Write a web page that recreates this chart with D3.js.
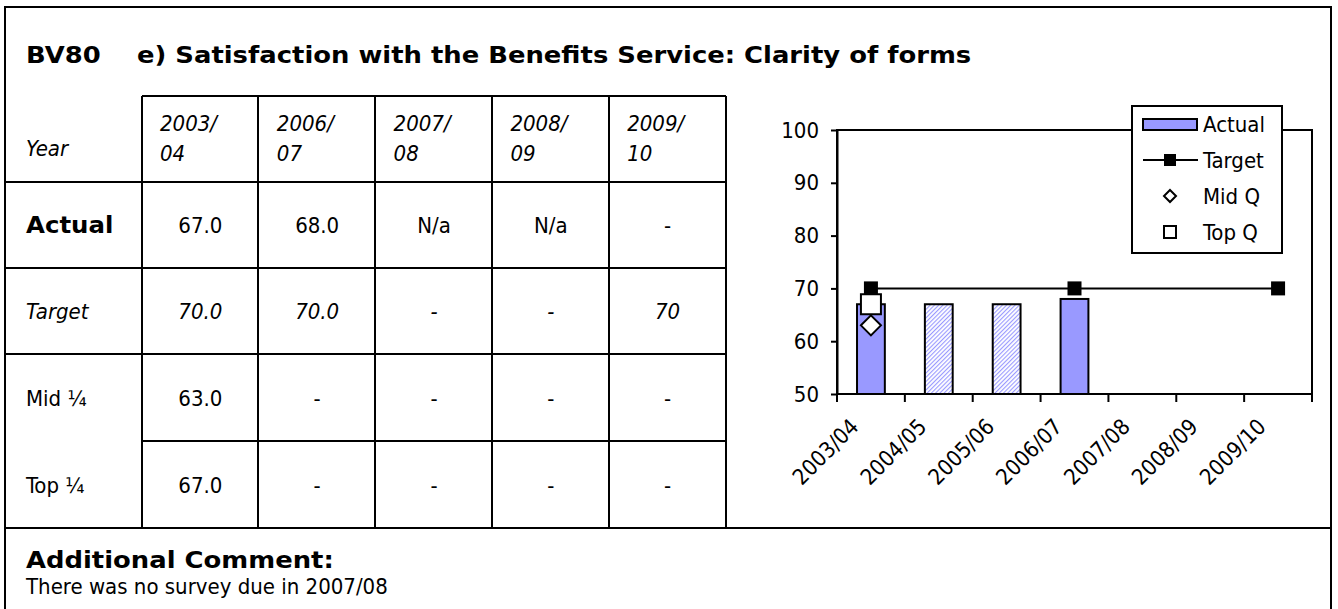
<!DOCTYPE html>
<html>
<head>
<meta charset="utf-8">
<script src="https://cdn.jsdelivr.net/npm/d3@7"></script>
<style>
  html, body { margin: 0; padding: 0; background: #fff; }
  svg { display: block; }
  .txt { font-family: "DejaVu Sans Condensed", "DejaVu Sans", Verdana, sans-serif; font-stretch: condensed; }
  .head { font-family: "DejaVu Sans", Verdana, sans-serif; font-weight: bold; font-stretch: normal; }
</style>
</head>
<body>
<svg id="sheet" width="1338" height="609"></svg>
<script>
// ---- Chart data ----
const categories = ["2003/04", "2004/05", "2005/06", "2006/07", "2007/08", "2008/09", "2009/10"];
const actual     = [67, null, null, 68, null, null, null];   // surveyed years (solid bars)
const carried    = [null, 67, 67, null, null, null, null];   // non-survey years (hatched bars)
const target     = [70, null, null, 70, null, null, 70];
const midQ       = [63, null, null, null, null, null, null];
const topQ       = [67, null, null, null, null, null, null];
const yTicks     = [50, 60, 70, 80, 90, 100];
const legendLabels = ["Actual", "Target", "Mid Q", "Top Q"];

// ---- Table data ----
const yearLine1 = ["2003/", "2006/", "2007/", "2008/", "2009/"];
const yearLine2 = ["04", "07", "08", "09", "10"];
const rowActual = ["67.0", "68.0", "N/a", "N/a", "-"];
const rowTarget = ["70.0", "70.0", "-", "-", "70"];
const rowMid    = ["63.0", "-", "-", "-", "-"];
const rowTop    = ["67.0", "-", "-", "-", "-"];
const rowLabels = ["Actual", "Target", "Mid \u00BC", "Top \u00BC"];

const svg = d3.select("#sheet");
const INK = "#000";
const BAR = "#9999FF";
const FS = 22;      // body text size
const HS = 23.5;    // bold heading size
const HW = 1.1;     // horizontal widening of bold headings

// widen bold text horizontally (keeps the glyph height)
function widen(sel, k = HW) {
  sel.each(function () {
    const w = this.getComputedTextLength();
    d3.select(this).attr("textLength", w * k).attr("lengthAdjust", "spacingAndGlyphs");
  });
}

// ---- Outer frame ----
const frame = { left: 5, right: 1331, top: 7 };
const lines = svg.append("g").attr("stroke", INK).attr("stroke-width", 2).attr("fill", "none");
lines.append("path").attr("d", `M${frame.left},609 V${frame.top} H${frame.right} V609`);

// ---- Heading ----
const labelX = 26;
const heading = svg.append("g").attr("class", "head").attr("font-size", HS).attr("fill", INK);
heading.append("text").attr("x", labelX).attr("y", 63).text("BV80");
heading.append("text").attr("x", 137).attr("y", 63)
  .text("e) Satisfaction with the Benefits Service: Clarity of forms");
widen(heading.selectAll("text"));

// ---- Table ----
const colEdges = [142, 258, 375, 492, 609, 726];
const rowEdges = [96, 182, 268, 354, 441, 528];
const colX = d3.scaleBand().domain(d3.range(5)).range([colEdges[0], colEdges[5]]);

// horizontal rules
lines.append("line").attr("x1", colEdges[0]).attr("x2", colEdges[5]).attr("y1", rowEdges[0]).attr("y2", rowEdges[0]);
[1, 2, 3].forEach(i => lines.append("line").attr("x1", frame.left).attr("x2", colEdges[5]).attr("y1", rowEdges[i]).attr("y2", rowEdges[i]));
lines.append("line").attr("x1", colEdges[0]).attr("x2", colEdges[5]).attr("y1", rowEdges[4]).attr("y2", rowEdges[4]);
lines.append("line").attr("x1", frame.left).attr("x2", frame.right).attr("y1", rowEdges[5]).attr("y2", rowEdges[5]);
// vertical rules
colEdges.forEach(x => lines.append("line").attr("x1", x).attr("x2", x).attr("y1", rowEdges[0]).attr("y2", rowEdges[5]));

const table = svg.append("g").attr("class", "txt").attr("font-size", FS).attr("fill", INK);

// header row
table.append("text").attr("x", labelX).attr("y", 156).attr("font-style", "italic").text("Year");
table.selectAll(".yr1").data(yearLine1).join("text")
  .attr("x", (d, i) => colX(i) + 18).attr("y", 131).attr("font-style", "italic").text(d => d);
table.selectAll(".yr2").data(yearLine2).join("text")
  .attr("x", (d, i) => colX(i) + 18).attr("y", 161).attr("font-style", "italic").text(d => d);

const bodyRows = [rowActual, rowTarget, rowMid, rowTop];
bodyRows.forEach((vals, r) => {
  const cy = (rowEdges[r + 1] + rowEdges[r + 2]) / 2 + 8;
  const lab = table.append("text").attr("x", labelX).attr("y", cy).text(rowLabels[r]);
  if (r === 0) { lab.attr("class", "head").attr("font-size", HS); widen(lab, 1.04); }
  if (r === 1) lab.attr("font-style", "italic");
  table.selectAll(null).data(vals).join("text")
    .attr("x", (d, i) => colX(i) + colX.bandwidth() / 2)
    .attr("y", cy)
    .attr("text-anchor", "middle")
    .attr("font-style", r === 1 ? "italic" : null)
    .text(d => d);
});

// comment block
const commentHead = table.append("text").attr("x", labelX).attr("y", 568)
  .attr("class", "head").attr("font-size", HS).text("Additional Comment:");
widen(commentHead);
table.append("text").attr("x", labelX).attr("y", 594).text("There was no survey due in 2007/08");

// ---- Chart ----
const plot = { left: 837, right: 1312, top: 130, bottom: 394 };
const x = d3.scaleBand().domain(categories).range([plot.left, plot.right]).padding(0);
const y = d3.scaleLinear().domain([50, 100]).range([plot.bottom, plot.top]);
const barW = x.bandwidth() * 0.41;
const cx = c => x(c) + x.bandwidth() / 2;

const defs = svg.append("defs");
const pat = defs.append("pattern").attr("id", "hatch").attr("patternUnits", "userSpaceOnUse")
  .attr("width", 3).attr("height", 3).attr("patternTransform", "rotate(45)");
pat.append("rect").attr("width", 3).attr("height", 3).attr("fill", "#fff");
pat.append("rect").attr("width", 1.1).attr("height", 3).attr("fill", BAR);

const chart = svg.append("g").attr("class", "txt");

// plot frame
chart.append("rect").attr("x", plot.left).attr("y", plot.top)
  .attr("width", plot.right - plot.left).attr("height", plot.bottom - plot.top)
  .attr("fill", "none").attr("stroke", INK).attr("stroke-width", 2);

// bars
const barData = (vals, fill) => categories.map((c, i) => ({ c, v: vals[i], fill })).filter(d => d.v != null);
chart.selectAll(".bar").data([...barData(actual, BAR), ...barData(carried, "url(#hatch)")]).join("rect")
  .attr("x", d => cx(d.c) - barW / 2)
  .attr("y", d => y(d.v))
  .attr("width", barW)
  .attr("height", d => y(50) - y(d.v))
  .attr("fill", d => d.fill)
  .attr("stroke", INK).attr("stroke-width", 2);

// y axis
const yAxis = chart.append("g").attr("transform", `translate(${plot.left},0)`)
  .call(d3.axisLeft(y).tickValues(yTicks).tickSize(6).tickPadding(12).tickSizeOuter(0));
yAxis.attr("font-family", null).attr("font-size", null);
yAxis.select(".domain").attr("stroke-width", 2);
yAxis.selectAll(".tick line").attr("stroke-width", 2);
yAxis.selectAll("text").attr("font-size", FS).attr("fill", INK);

// x axis: ticks between categories, rotated labels
const xAxis = chart.append("g").attr("transform", `translate(0,${plot.bottom})`);
xAxis.append("line").attr("x1", plot.left).attr("x2", plot.right).attr("stroke", INK).attr("stroke-width", 2);
const edges = categories.map(c => x(c)).concat([plot.right]);
xAxis.selectAll(".xt").data(edges).join("line")
  .attr("x1", d => d).attr("x2", d => d).attr("y1", 0).attr("y2", 8)
  .attr("stroke", INK).attr("stroke-width", 2);
xAxis.selectAll(".xl").data(categories).join("text")
  .attr("transform", d => `translate(${cx(d) - 11},34) rotate(-45)`)
  .attr("text-anchor", "end").attr("font-size", FS).attr("fill", INK)
  .text(d => d);

// target line + markers
const tPts = categories.map((c, i) => ({ c, v: target[i] })).filter(d => d.v != null);
chart.append("path").datum(tPts)
  .attr("d", d3.line().x(d => cx(d.c)).y(d => y(d.v)))
  .attr("fill", "none").attr("stroke", INK).attr("stroke-width", 2);
chart.selectAll(".tm").data(tPts).join("rect")
  .attr("x", d => cx(d.c) - 7).attr("y", d => y(d.v) - 7)
  .attr("width", 14).attr("height", 14).attr("fill", INK);

// mid quartile diamonds
const mPts = categories.map((c, i) => ({ c, v: midQ[i] })).filter(d => d.v != null);
chart.selectAll(".mq").data(mPts).join("path")
  .attr("d", d => { const px = cx(d.c), py = y(d.v), r = 10; return `M${px},${py - r} L${px + r},${py} L${px},${py + r} L${px - r},${py} Z`; })
  .attr("fill", "#fff").attr("stroke", INK).attr("stroke-width", 2);

// top quartile squares
const qPts = categories.map((c, i) => ({ c, v: topQ[i] })).filter(d => d.v != null);
chart.selectAll(".tq").data(qPts).join("rect")
  .attr("x", d => cx(d.c) - 10).attr("y", d => y(d.v) - 10)
  .attr("width", 20).attr("height", 20)
  .attr("fill", "#fff").attr("stroke", INK).attr("stroke-width", 2);

// ---- Legend ----
const lg = { x: 1132, y: 106, w: 150, h: 147 };
const legend = chart.append("g");
legend.append("rect").attr("x", lg.x).attr("y", lg.y).attr("width", lg.w).attr("height", lg.h)
  .attr("fill", "#fff").attr("stroke", INK).attr("stroke-width", 2);
const rowY = i => lg.y + 18 + i * 36;
const symX = lg.x + 38;
legendLabels.forEach((lab, i) => {
  const ry = rowY(i);
  const g = legend.append("g");
  if (i === 0) {
    g.append("rect").attr("x", lg.x + 11).attr("y", ry - 5).attr("width", 54).attr("height", 11)
      .attr("fill", BAR).attr("stroke", INK).attr("stroke-width", 2);
  } else if (i === 1) {
    g.append("line").attr("x1", lg.x + 11).attr("x2", lg.x + 66).attr("y1", ry).attr("y2", ry)
      .attr("stroke", INK).attr("stroke-width", 2);
    g.append("rect").attr("x", symX - 6).attr("y", ry - 6).attr("width", 12).attr("height", 12).attr("fill", INK);
  } else if (i === 2) {
    const r = 6;
    g.append("path").attr("d", `M${symX},${ry - r} L${symX + r},${ry} L${symX},${ry + r} L${symX - r},${ry} Z`)
      .attr("fill", "#fff").attr("stroke", INK).attr("stroke-width", 2);
  } else {
    g.append("rect").attr("x", symX - 6).attr("y", ry - 6).attr("width", 12).attr("height", 12)
      .attr("fill", "#fff").attr("stroke", INK).attr("stroke-width", 2);
  }
  g.append("text").attr("x", lg.x + 71).attr("y", ry + 8).attr("font-size", FS).attr("fill", INK).text(lab);
});
</script>
</body>
</html>
